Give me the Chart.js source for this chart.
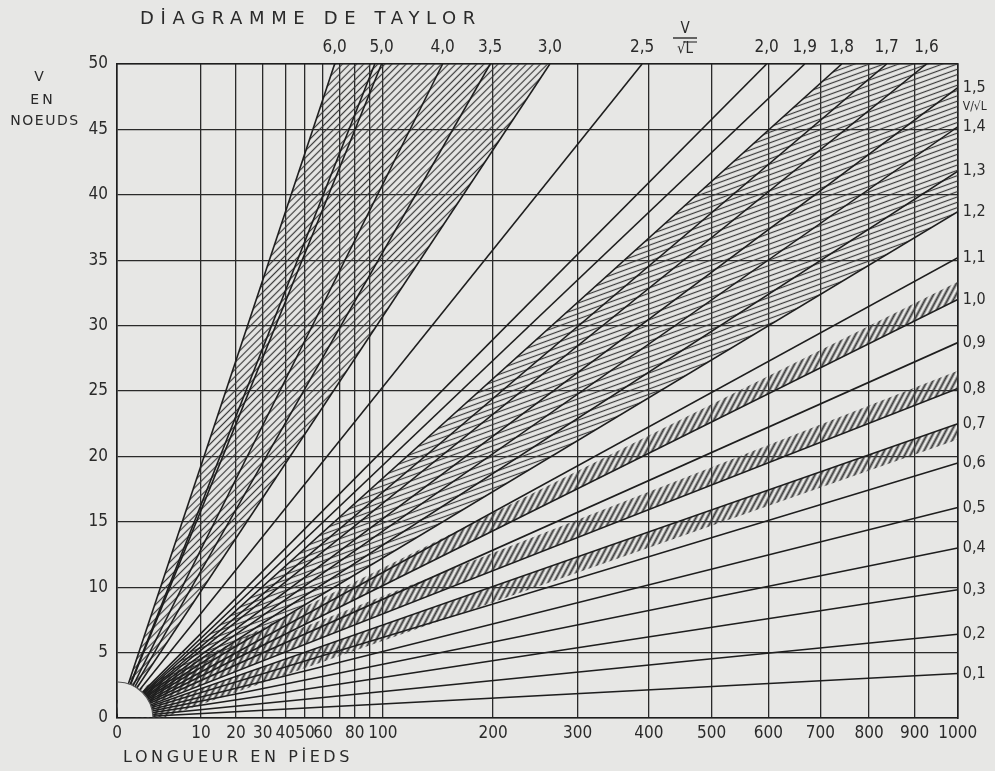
<!DOCTYPE html>
<html>
<head>
<meta charset="utf-8">
<title>Diagramme de Taylor</title>
<script src="https://cdn.jsdelivr.net/npm/chart.js@4.4.1/dist/chart.umd.min.js"></script>
<style>
  html, body { margin: 0; padding: 0; background: #e7e7e5; }
  canvas { display: block; }
</style>
</head>
<body>
<canvas id="taylor" width="995" height="771"></canvas>
<script>
// longueur en pieds (axe en racine carree) et vitesse en noeuds
var lengthTicks = [0, 10, 20, 30, 40, 50, 60, 70, 80, 90, 100, 200, 300, 400, 500, 600, 700, 800, 900, 1000];
var lengthLabels = ['0', '10', '20', '30', '40', '50', '60', '', '80', '', '100', '200', '300', '400', '500', '600', '700', '800', '900', '1000'];
var speedTicks = [0, 5, 10, 15, 20, 25, 30, 35, 40, 45, 50];

// droites V/VL qui sortent en haut (50 noeuds) : longueur au point de sortie
var topRatios = [6.0, 5.0, 4.0, 3.5, 3.0, 2.5, 2.0, 1.9, 1.8, 1.7, 1.6];
var topExitL = [67, 99, 150, 197, 265, 390, 597, 669, 743, 838, 927];
var extraTopExitL = [94];

// droites qui sortent a droite (1000 pieds) : vitesse au point de sortie
var rightRatios = [1.5, 1.4, 1.3, 1.2, 1.1, 1.0, 0.9, 0.8, 0.7, 0.6, 0.5, 0.4, 0.3, 0.2, 0.1];
var rightExitV = [48.2, 45.2, 41.8, 38.7, 35.2, 32.0, 28.7, 25.2, 22.5, 19.5, 16.1, 13.0, 9.8, 6.4, 3.4];

// zones hachurees
var bandTop = [6.0, 3.0];
var bandRight = [1.8, 1.2];
var tickedUp = [1.0, 0.8];
var tickedDown = [0.7];

var inkColor = '#1e1e1e';
var paperColor = '#e7e7e5';
var tickFont = '"DejaVu Sans Condensed", "DejaVu Sans", sans-serif';
var unitLabel = 'V/\u221AL';

var lengthMax = lengthTicks[lengthTicks.length - 1];
var speedMax = speedTicks[speedTicks.length - 1];

// echelle en racine carree pour l'axe des longueurs
class SqrtScale extends Chart.LinearScale {
  configure() {
    super.configure();
    this._startValue = Math.sqrt(this.min);
    this._valueRange = Math.sqrt(this.max) - Math.sqrt(this.min);
  }
  getPixelForValue(value) {
    return this.getPixelForDecimal((Math.sqrt(value) - this._startValue) / this._valueRange);
  }
  getValueForPixel(pixel) {
    var s = this._startValue + this.getDecimalForPixel(pixel) * this._valueRange;
    return s * s;
  }
}
SqrtScale.id = 'sqrt';
SqrtScale.defaults = Chart.LinearScale.defaults;
Chart.register(SqrtScale);

var canvas = document.getElementById('taylor');
var ctx = canvas.getContext('2d');

function hatchPattern(gap, angle, width, color) {
  var tile = document.createElement('canvas');
  tile.width = 10;
  tile.height = gap;
  var c = tile.getContext('2d');
  c.strokeStyle = color;
  c.lineWidth = width;
  c.beginPath();
  c.moveTo(0, gap / 2);
  c.lineTo(10, gap / 2);
  c.stroke();
  var p = ctx.createPattern(tile, 'repeat');
  p.setTransform(new DOMMatrix().rotate(-angle));
  return p;
}

function ratioText(r) {
  return r.toFixed(1).replace('.', ',');
}

function topL(r) { return topExitL[topRatios.indexOf(r)]; }
function rightV(r) { return rightExitV[rightRatios.indexOf(r)]; }

function polygonSet(points, pattern) {
  return {
    data: points,
    fill: 'shape',
    backgroundColor: pattern,
    borderWidth: 0,
    pointRadius: 0,
    order: 2
  };
}

function lineSet(endL, endV) {
  return {
    data: [{x: 0, y: 0}, {x: endL, y: endV}],
    borderColor: inkColor,
    borderWidth: 1.6,
    fill: false,
    pointRadius: 0,
    order: 1
  };
}

var datasets = [];

// hachures
var patternLeft = hatchPattern(5, 45, 1.2, '#3a3a3a');
var patternRight = hatchPattern(5, 20, 1.2, '#3a3a3a');
var patternTicks = hatchPattern(5, 62, 2, '#3a3a3a');
var tickWidth = 1.35;

datasets.push(polygonSet([
  {x: 0, y: 0}, {x: topL(bandTop[0]), y: speedMax}, {x: topL(bandTop[1]), y: speedMax}, {x: 0, y: 0}
], patternLeft));
datasets.push(polygonSet([
  {x: 0, y: 0}, {x: topL(bandRight[0]), y: speedMax}, {x: lengthMax, y: speedMax},
  {x: lengthMax, y: rightV(bandRight[1])}, {x: 0, y: 0}
], patternRight));
tickedUp.concat(tickedDown).forEach(function(r) {
  var v = rightV(r);
  var w = tickedUp.indexOf(r) >= 0 ? tickWidth : -tickWidth * 0.9;
  datasets.push(polygonSet([
    {x: 0, y: 0}, {x: lengthMax, y: v}, {x: lengthMax, y: v + w}, {x: 0, y: w}, {x: 0, y: 0}
  ], patternTicks));
});

// droites V = k.VL
topExitL.concat(extraTopExitL).forEach(function(l) {
  datasets.push(lineSet(l, speedMax));
});
rightExitV.forEach(function(v) {
  datasets.push(lineSet(lengthMax, v));
});

// quart de cercle a l'origine
datasets.push({
  type: 'bubble',
  data: [{x: 0, y: 0}],
  radius: 36,
  backgroundColor: paperColor,
  borderColor: '#555',
  borderWidth: 1.2,
  clip: {left: -1, top: 0, right: 0, bottom: -1},
  order: 0
});

var rightTickV = [rightExitV[0], 46.7].concat(rightExitV.slice(1));
var rightTickLabels = [ratioText(rightRatios[0]), unitLabel].concat(rightRatios.slice(1).map(ratioText));

function spaced(c, text, x, y, width, font) {
  c.font = font;
  c.letterSpacing = '0px';
  var w = c.measureText(text).width;
  c.letterSpacing = ((width - w) / text.length) + 'px';
  c.textAlign = 'left';
  c.fillText(text, x, y);
  c.letterSpacing = '0px';
}

var freeText = {
  id: 'freeText',
  afterDraw: function(chart) {
    var c = chart.ctx;
    c.save();
    c.fillStyle = '#2a2a2a';
    c.strokeStyle = '#2a2a2a';
    c.textBaseline = 'middle';
    spaced(c, 'D\u0130AGRAMME DE TAYLOR', 140, 19, 342, '18px "DejaVu Sans", sans-serif');
    spaced(c, 'LONGUEUR EN P\u0130EDS', 123, 758, 230, '16px "DejaVu Sans", sans-serif');

    c.textAlign = 'center';
    c.font = '14px "DejaVu Sans", sans-serif';
    c.fillText('V', 39, 77);
    c.letterSpacing = '3px';
    c.fillText('EN', 43, 100);
    c.letterSpacing = '1.5px';
    c.fillText('NOEUDS', 45, 121);
    c.letterSpacing = '0px';

    // V sur racine de L
    c.font = '15px ' + tickFont;
    c.fillText('V', 685, 29);
    c.lineWidth = 1.4;
    c.beginPath();
    c.moveTo(673, 38);
    c.lineTo(697, 38);
    c.stroke();
    c.fillText('\u221AL', 685, 49);
    c.beginPath();
    c.moveTo(683, 42);
    c.lineTo(697, 42);
    c.lineWidth = 1.1;
    c.stroke();
    c.restore();
  }
};

new Chart(ctx, {
  type: 'line',
  data: { datasets: datasets },
  plugins: [freeText],
  options: {
    responsive: false,
    animation: false,
    events: [],
    layout: { padding: 0 },
    plugins: {
      legend: { display: false },
      tooltip: { enabled: false },
      title: { display: false }
    },
    elements: { point: { radius: 0 }, line: { tension: 0 } },
    scales: {
      x: {
        type: 'sqrt',
        position: 'bottom',
        min: 0,
        max: lengthMax,
        afterBuildTicks: function(s) { s.ticks = lengthTicks.map(function(v) { return {value: v}; }); },
        afterFit: function(s) { s.height = 53; },
        grid: { color: '#2a2a2a', lineWidth: 1.3, drawTicks: false },
        border: { color: inkColor, width: 1.6 },
        ticks: {
          autoSkip: false,
          maxRotation: 0,
          padding: 5,
          color: '#2a2a2a',
          font: { family: tickFont, size: 17 },
          callback: function(v, i) { return lengthLabels[i]; }
        }
      },
      x2: {
        type: 'sqrt',
        position: 'top',
        min: 0,
        max: lengthMax,
        afterBuildTicks: function(s) { s.ticks = topExitL.map(function(v) { return {value: v}; }); },
        afterFit: function(s) { s.height = 64; },
        grid: { display: false, drawTicks: false },
        border: { color: inkColor, width: 1.6 },
        ticks: {
          autoSkip: false,
          maxRotation: 0,
          padding: 6,
          color: '#2a2a2a',
          font: { family: tickFont, size: 17 },
          callback: function(v, i) { return ratioText(topRatios[i]); }
        }
      },
      y: {
        type: 'linear',
        position: 'left',
        min: 0,
        max: speedMax,
        afterBuildTicks: function(s) { s.ticks = speedTicks.map(function(v) { return {value: v}; }); },
        afterFit: function(s) { s.width = 117; },
        grid: { color: '#2a2a2a', lineWidth: 1.3, drawTicks: false },
        border: { color: inkColor, width: 1.6 },
        ticks: {
          padding: 9,
          color: '#2a2a2a',
          font: { family: tickFont, size: 17 }
        }
      },
      y2: {
        type: 'linear',
        position: 'right',
        min: 0,
        max: speedMax,
        afterBuildTicks: function(s) { s.ticks = rightTickV.map(function(v) { return {value: v}; }); },
        afterFit: function(s) { s.width = 37; },
        grid: { display: false, drawTicks: false },
        border: { color: inkColor, width: 1.6 },
        ticks: {
          autoSkip: false,
          padding: 5,
          color: '#2a2a2a',
          font: function(c) {
            return { family: tickFont, size: c.tick && c.tick.label === unitLabel ? 12 : 16 };
          },
          callback: function(v, i) { return rightTickLabels[i]; }
        }
      }
    }
  }
});
</script>
</body>
</html>
